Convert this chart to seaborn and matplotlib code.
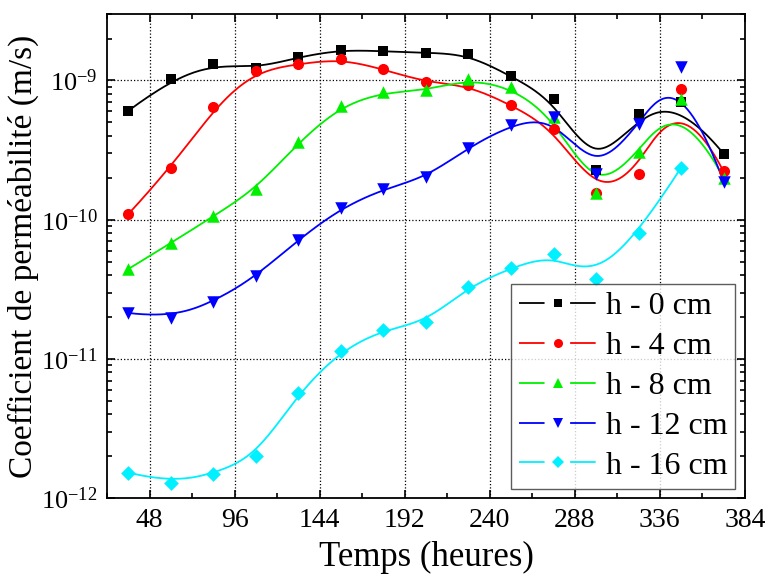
import numpy as np
import pandas as pd
import matplotlib
matplotlib.use('Agg')
import matplotlib.pyplot as plt
from matplotlib.lines import Line2D
import seaborn as sns

# Données
hours = [36, 60, 84, 108, 132, 156, 180, 204, 228, 252, 276, 300, 324, 348, 372]
k_0cm = [6.06e-10, 1.02e-9, 1.32e-9, 1.22e-9, 1.47e-9, 1.66e-9, 1.62e-9, 1.58e-9,
         1.54e-9, 1.07e-9, 7.3e-10, 2.29e-10, 5.77e-10, 7.0e-10, 2.98e-10]
k_4cm = [1.10e-10, 2.35e-10, 6.4e-10, 1.17e-9, 1.31e-9, 1.43e-9, 1.20e-9, 9.7e-10,
         9.2e-10, 6.66e-10, 4.5e-10, 1.56e-10, 2.13e-10, 8.67e-10, 2.22e-10]
k_8cm = [4.43e-11, 6.8e-11, 1.06e-10, 1.66e-10, 3.59e-10, 6.58e-10, 8.2e-10, 8.48e-10,
         1.02e-9, 8.9e-10, 5.42e-10, 1.56e-10, 3.06e-10, 7.4e-10, 2.0e-10]
k_12cm = [2.14e-11, 1.97e-11, 2.55e-11, 3.92e-11, 7.2e-11, 1.21e-10, 1.66e-10, 2.01e-10,
          3.3e-10, 4.8e-10, 5.5e-10, 2.14e-10, 4.86e-10, 1.24e-9, 1.88e-10]
k_16cm = [1.53e-12, 1.29e-12, 1.49e-12, 2.0e-12, 5.7e-12, 1.15e-11, 1.62e-11, 1.84e-11,
          3.3e-11, 4.5e-11, 5.65e-11, 3.75e-11, 8.0e-11, 2.36e-10]

labels = ['h - 0 cm', 'h - 4 cm', 'h - 8 cm', 'h - 12 cm', 'h - 16 cm']
series = [k_0cm, k_4cm, k_8cm, k_12cm, k_16cm]
colors = ['black', '#ff0000', '#00f000', '#0000ff', '#00f0ff']
markers = ['s', 'o', '^', 'v', 'D']
msizes = [7, 8, 9, 9, 7.5]


def bspline(xs, ys, n=400, k=3):
    # B-spline cubique (points de contrôle = données), comme dans Origin
    P = np.column_stack([xs, ys])
    m = len(P)
    knots = np.concatenate([np.zeros(k), np.linspace(0, 1, m - k + 1), np.ones(k)])
    t = np.linspace(0, 1, n)
    t[-1] -= 1e-9
    N = np.array([[(knots[i] <= tt < knots[i + 1]) for i in range(len(knots) - 1)]
                  for tt in t], dtype=float)
    for d in range(1, k + 1):
        Nn = np.zeros((n, len(knots) - 1 - d))
        for i in range(len(knots) - 1 - d):
            a = knots[i + d] - knots[i]
            b = knots[i + d + 1] - knots[i + 1]
            left = (t - knots[i]) / a * N[:, i] if a > 0 else 0
            right = (knots[i + d + 1] - t) / b * N[:, i + 1] if b > 0 else 0
            Nn[:, i] = left + right
        N = Nn
    return N @ P


sns.set_style('ticks')
plt.rcParams['font.family'] = ['Liberation Serif', 'DejaVu Serif']
plt.rcParams['mathtext.fontset'] = 'custom'
plt.rcParams['mathtext.rm'] = 'Liberation Serif'
for key in ['text.color', 'axes.labelcolor', 'xtick.color', 'ytick.color']:
    plt.rcParams[key] = 'black'

fig = plt.figure(figsize=(7.71, 5.88), dpi=100)
ax = fig.add_axes([0.139, 0.1526, 0.827, 0.8236])

leg_fs = 23
lw = 1.3
handle_len = 2.4
seg = handle_len * leg_fs / 3 / lw  # trait - trou - trait dans la légende

handles = []
for ys, lab, c, mk, ms in zip(series, labels, colors, markers, msizes):
    xs = hours[:len(ys)]
    curve = bspline(np.array(xs, float), np.log10(ys))
    df_c = pd.DataFrame({'x': curve[:, 0], 'y': 10 ** curve[:, 1]})
    sns.lineplot(data=df_c, x='x', y='y', color=c, lw=lw, sort=False,
                 estimator=None, ax=ax, zorder=3)
    df_p = pd.DataFrame({'x': xs, 'y': ys})
    sns.scatterplot(data=df_p, x='x', y='y', color=c, marker=mk, s=ms ** 2,
                    linewidth=0, ax=ax, zorder=4)
    handles.append(Line2D([], [], color=c, lw=lw, linestyle=(0, (seg, seg)),
                          marker=mk, markersize=ms - 1.5,
                          markeredgewidth=0, label=lab))

ax.set_yscale('log')
ax.set_xlim(24, 384)
ax.set_ylim(1e-12, 3e-9)
ax.set_xticks(np.arange(48, 385, 48))
ax.set_xticks(np.arange(24, 385, 48), minor=True)
ax.set_yticks([1e-12, 1e-11, 1e-10, 1e-9])

ax.grid(True, which='major', color='black', linestyle=':', linewidth=0.9)
ax.tick_params(which='both', direction='in', top=True, right=True,
               width=1.2, labelsize=20, colors='black')
ax.tick_params(axis='y', which='major', labelsize=19)
ax.tick_params(which='major', length=6, pad=7)
ax.tick_params(which='minor', length=3.5)
for sp in ax.spines.values():
    sp.set_linewidth(1.3)
    sp.set_color('black')

ax.set_xlabel('Temps (heures)', fontsize=25, labelpad=6)
ax.set_ylabel('Coefficient de perméabilité (m/s)', fontsize=24, labelpad=1)

leg = ax.legend(handles=handles, loc='lower right', bbox_to_anchor=(0.985, 0.02),
                fontsize=leg_fs, frameon=True, fancybox=False, edgecolor='#333333',
                handlelength=handle_len, handletextpad=0.3, labelspacing=0.33,
                borderpad=0.25, borderaxespad=0)
leg.get_frame().set_linewidth(1.0)

fig.savefig('out.png', dpi=100)
